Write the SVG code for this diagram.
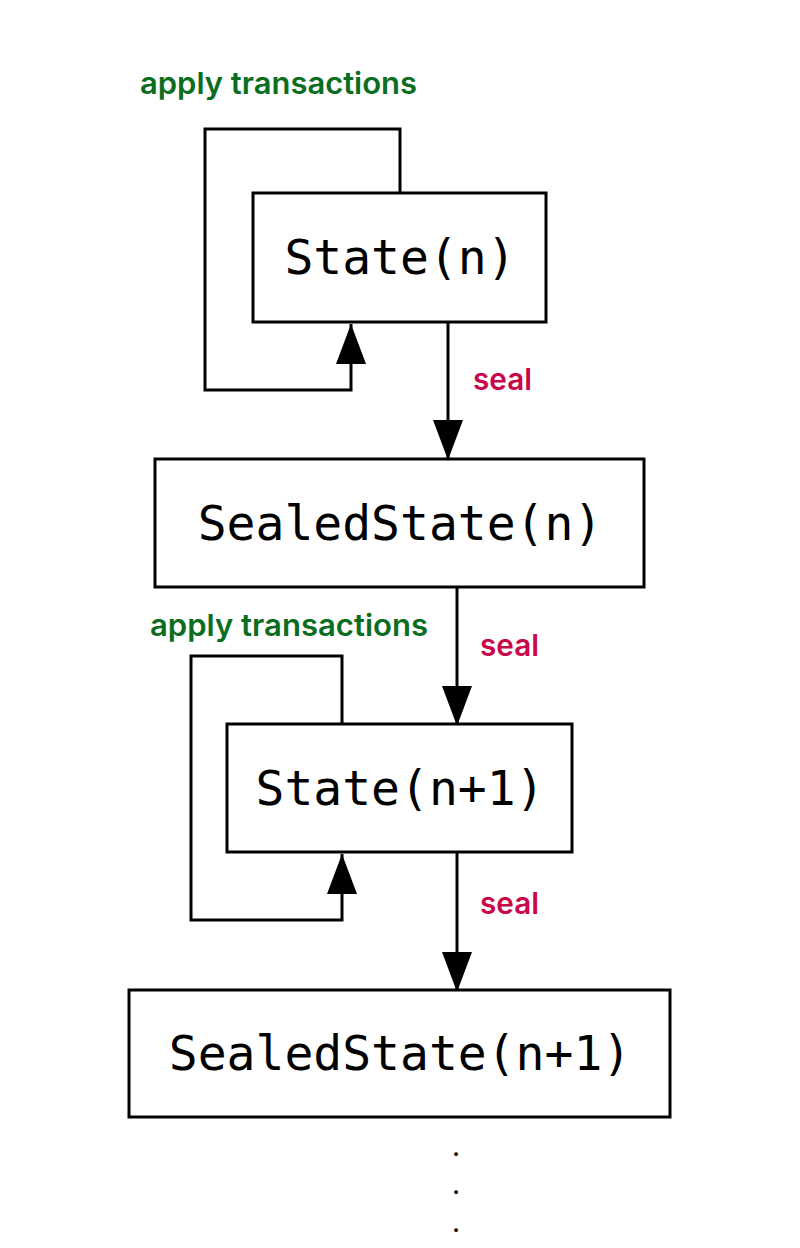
<svg xmlns="http://www.w3.org/2000/svg" width="800" height="1248" viewBox="0 0 800 1248">
<style>
.box{fill:#fff;stroke:#000;stroke-width:3}
.mono{font-family:"DejaVu Sans Mono",monospace;font-size:48px;fill:#000;text-anchor:middle}
.edge{fill:none;stroke:#000;stroke-width:3}
.apply{font-family:Inter,"Noto Sans",sans-serif;font-weight:600;font-size:30px;fill:#0b6e1f}
.seal{font-family:Inter,"Noto Sans",sans-serif;font-weight:600;font-size:30px;fill:#c7094c}
.dot{font-family:Inter,"Noto Sans",sans-serif;font-size:28px;fill:#000;text-anchor:middle}
</style>
<defs>
<marker id="arr" markerWidth="40" markerHeight="30" refX="40" refY="15" viewBox="0 0 40 30" orient="auto" markerUnits="userSpaceOnUse">
<path d="M0,0 L40,15 L0,30 Z" fill="#000"/>
</marker>
</defs>
<rect width="800" height="1248" fill="#fff"/>
<g id="connectors">
<path class="edge" d="M400,193 V129 H205 V390 H351 V324" marker-end="url(#arr)"/>
<path class="edge" d="M448,322 V460" marker-end="url(#arr)"/>
<path class="edge" d="M457,587 V726" marker-end="url(#arr)"/>
<path class="edge" d="M342,724 V656 H191 V920 H342 V854" marker-end="url(#arr)"/>
<path class="edge" d="M457,852 V992" marker-end="url(#arr)"/>
<text class="apply" x="140" y="94" textLength="277" lengthAdjust="spacingAndGlyphs">apply transactions</text>
<text class="seal" x="473" y="390" textLength="59" lengthAdjust="spacingAndGlyphs">seal</text>
<text class="apply" x="150" y="636" textLength="278" lengthAdjust="spacingAndGlyphs">apply transactions</text>
<text class="seal" x="480" y="656" textLength="59" lengthAdjust="spacingAndGlyphs">seal</text>
<text class="seal" x="480" y="914" textLength="59" lengthAdjust="spacingAndGlyphs">seal</text>
</g>
<g id="state_n">
<rect class="box" x="253" y="193" width="293" height="129"/>
<text class="mono" x="400" y="274">State(n)</text>
</g>
<g id="sealed_n">
<rect class="box" x="155" y="459" width="489" height="128"/>
<text class="mono" x="400" y="540">SealedState(n)</text>
</g>
<g id="state_n1">
<rect class="box" x="227" y="724" width="345" height="128"/>
<text class="mono" x="400" y="805">State(n+1)</text>
</g>
<g id="sealed_n1">
<rect class="box" x="129" y="990" width="541" height="127"/>
<text class="mono" x="400" y="1070">SealedState(n+1)</text>
</g>
<g id="ellipsis">
<text class="dot" x="456" y="1156">.</text>
<text class="dot" x="456" y="1194">.</text>
<text class="dot" x="456" y="1232">.</text>
</g>
</svg>
